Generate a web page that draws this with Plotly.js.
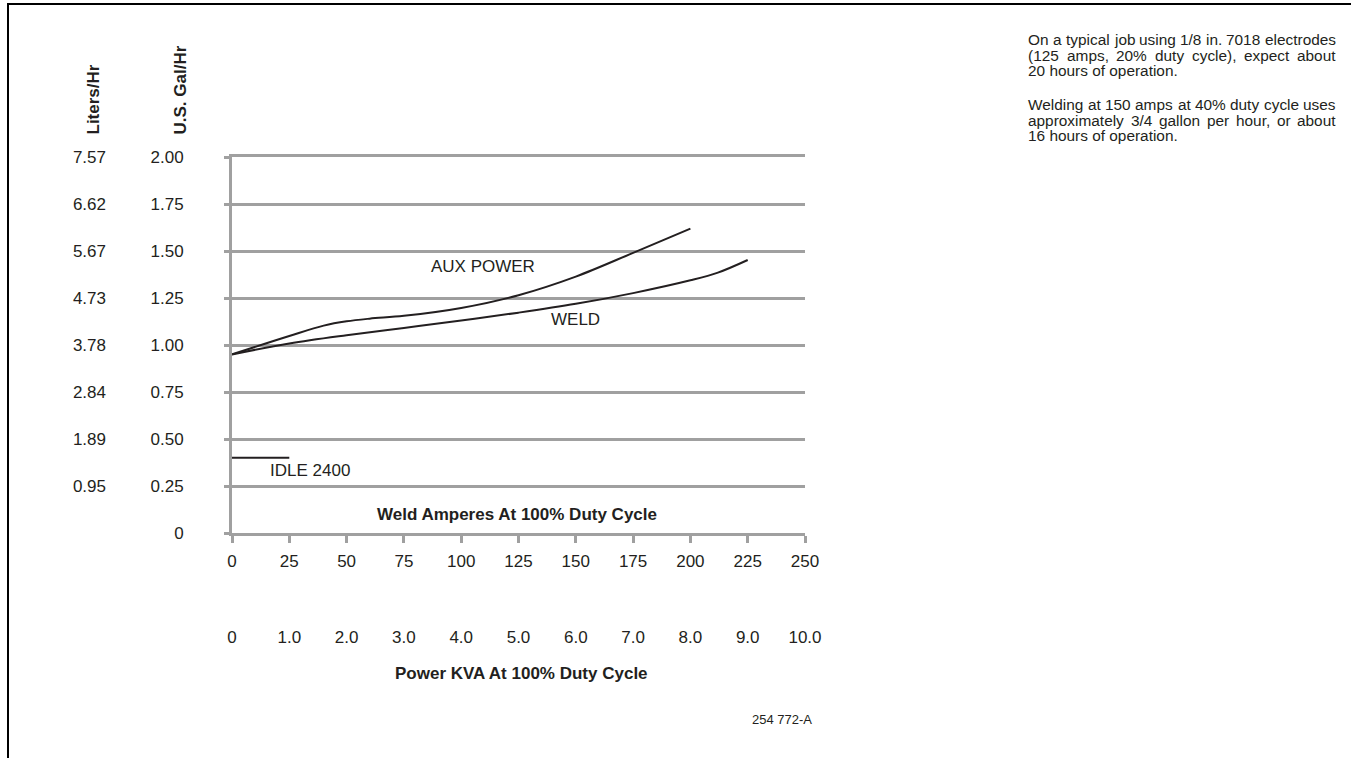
<!DOCTYPE html>
<html>
<head>
<meta charset="utf-8">
<script src="https://cdn.plot.ly/plotly-3.0.1.min.js"></script>
<style>
  html, body { margin: 0; padding: 0; background: #ffffff; }
  #chart { width: 1351px; height: 758px; }
</style>
</head>
<body>
<div id="chart"></div>
<script>
// ---------------- data ----------------
const auxAmps = [0, 25, 40, 50, 60, 75, 100, 125, 150, 175, 200];
const auxGal  = [0.95, 1.048, 1.103, 1.126, 1.14, 1.155, 1.197, 1.265, 1.364, 1.49, 1.619];

const weldAmps = [0, 25, 50, 75, 100, 125, 150, 175, 200, 212, 225];
const weldGal  = [0.95, 1.008, 1.052, 1.091, 1.13, 1.172, 1.219, 1.276, 1.344, 1.385, 1.452];

const idleAmps = [0, 25];
const idleGal  = [0.40, 0.40];

const ampTickVals = [0, 25, 50, 75, 100, 125, 150, 175, 200, 225, 250];
const ampTickText = ['0', '25', '50', '75', '100', '125', '150', '175', '200', '225', '250'];

const kvaTickVals = [0, 1, 2, 3, 4, 5, 6, 7, 8, 9, 10];
const kvaTickText = ['0', '1.0', '2.0', '3.0', '4.0', '5.0', '6.0', '7.0', '8.0', '9.0', '10.0'];

const galTickVals = [0, 0.25, 0.5, 0.75, 1.0, 1.25, 1.5, 1.75, 2.0];
const galTickText = ['0', '0.25', '0.50', '0.75', '1.00', '1.25', '1.50', '1.75', '2.00'];

const literTickVals = [0.25, 0.5, 0.75, 1.0, 1.25, 1.5, 1.75, 2.0];
const literTickText = ['0.95', '1.89', '2.84', '3.78', '4.73', '5.67', '6.62', '7.57'];

const para1 = [
  ['On a typical job using 1/8 in. 7018 electrodes', true],
  ['(125 amps, 20% duty cycle), expect about', true],
  ['20 hours of operation.', false]
];
const para2 = [
  ['Welding at 150 amps at 40% duty cycle uses', true],
  ['approximately 3/4 gallon per hour, or about', true],
  ['16 hours of operation.', false]
];

// ---------------- layout helpers ----------------
const FONT = 'Liberation Sans, Arial, sans-serif';
const INK = '#231f20';
const GRID = '#a0a0a0';
const L = 232, T = 157, W = 573, H = 376;
const FIGW = 1351, FIGH = 758;
const pxX = x => (x - L) / W;
const pxY = y => (T + H - y) / H;

const annotations = [];

// curve labels (data coordinates)
function label(text, x, y, size, bold) {
  annotations.push({
    text: bold ? '<b>' + text + '</b>' : text,
    x: x, y: y, xref: 'x', yref: 'y',
    showarrow: false, xanchor: 'center', yanchor: 'middle',
    font: { family: FONT, size: size, color: INK }
  });
}
label('AUX POWER', 109.6, 1.418, 17, false);
label('WELD', 149.9, 1.135, 17, false);
label('IDLE 2400', 33.9, 0.333, 17, false);
label('Weld Amperes At 100% Duty Cycle', 124.5, 0.097, 17, true);

// paper-pixel annotations
function ann(text, px, py, opts) {
  annotations.push(Object.assign({
    text: text, x: pxX(px), y: pxY(py), xref: 'paper', yref: 'paper',
    showarrow: false, xanchor: 'center', yanchor: 'middle', borderpad: 0,
    font: { family: FONT, size: 17, color: INK }
  }, opts || {}));
}
ann('<b>Liters/Hr</b>', 93.5, 136, { textangle: -90, yanchor: 'bottom' });
ann('<b>U.S. Gal/Hr</b>', 180, 136, { textangle: -90, yanchor: 'bottom' });
ann('<b>Power KVA At 100% Duty Cycle</b>', 521, 673);
ann('254 772-A', 782, 719, { font: { family: FONT, size: 13, color: INK } });

// justified paragraph text on the right
const cnv = document.createElement('canvas');
const ctx = cnv.getContext('2d');
const PFS = 15.4;
ctx.font = PFS + 'px "Liberation Sans"';
const LEFT = 1027, RIGHT = 1335;
const wordW = w => ctx.measureText(w).width;
function addPara(lines, y0) {
  lines.forEach((ln, i) => {
    const cy = y0 + i * 16;
    const txt = ln[0], just = ln[1];
    const pf = { family: FONT, size: PFS, color: INK };
    if (!just) {
      ann(txt, LEFT, cy, { xanchor: 'left', font: pf });
      return;
    }
    const words = txt.split(' ');
    const ws = words.map(wordW);
    const sum = ws.reduce((a, b) => a + b, 0);
    const gap = (RIGHT - LEFT - sum) / (words.length - 1);
    let x = LEFT;
    words.forEach((w, k) => {
      ann(w, x, cy, { xanchor: 'left', font: pf });
      x += ws[k] + gap;
    });
  });
}
addPara(para1, 39);
addPara(para2, 104);

// frame lines
const shapes = [
  { type: 'line', xref: 'paper', yref: 'paper', x0: pxX(8), x1: pxX(8), y0: pxY(4), y1: pxY(FIGH), line: { color: '#000', width: 2 } },
  { type: 'line', xref: 'paper', yref: 'paper', x0: pxX(7), x1: pxX(FIGW), y0: pxY(4), y1: pxY(4), line: { color: '#000', width: 2 } }
];

// ---------------- traces ----------------
const lineStyle = { color: INK, width: 2, shape: 'spline', smoothing: 1 };
const traces = [
  { x: auxAmps, y: auxGal, mode: 'lines', line: lineStyle, name: 'AUX POWER', hoverinfo: 'x+y' },
  { x: weldAmps, y: weldGal, mode: 'lines', line: lineStyle, name: 'WELD', hoverinfo: 'x+y' },
  { x: idleAmps, y: idleGal, mode: 'lines', line: { color: INK, width: 2 }, name: 'IDLE 2400', hoverinfo: 'x+y' },
  // invisible helpers so the secondary scales are drawn
  { x: kvaTickVals, y: kvaTickVals.map(() => 0), xaxis: 'x2', yaxis: 'y', mode: 'markers', marker: { opacity: 0 }, hoverinfo: 'skip' },
  { x: literTickVals.map(() => 0), y: literTickVals, xaxis: 'x', yaxis: 'y2', mode: 'markers', marker: { opacity: 0 }, hoverinfo: 'skip' }
];

const tickFont = { family: FONT, size: 17, color: INK };

const layout = {
  width: FIGW, height: FIGH, autosize: false,
  margin: { l: L, r: FIGW - L - W, t: T, b: FIGH - T - H, pad: 0 },
  paper_bgcolor: '#ffffff', plot_bgcolor: '#ffffff',
  showlegend: false,
  font: { family: FONT, color: INK },
  xaxis: {
    range: [0, 250], tickmode: 'array', tickvals: ampTickVals, ticktext: ampTickText,
    ticks: 'outside', ticklen: 7, tickwidth: 3, tickcolor: GRID,
    showline: true, linecolor: GRID, linewidth: 3, mirror: true,
    showgrid: false, zeroline: false, tickfont: tickFont, ticklabelstandoff: 4,
    fixedrange: true
  },
  xaxis2: {
    overlaying: 'x', anchor: 'y', side: 'bottom',
    range: [0, 10], tickmode: 'array', tickvals: kvaTickVals, ticktext: kvaTickText,
    ticks: '', showline: false, showgrid: false, zeroline: false,
    tickfont: tickFont, ticklabelstandoff: 92, fixedrange: true
  },
  yaxis: {
    range: [0, 2], tickmode: 'array', tickvals: galTickVals, ticktext: galTickText,
    ticks: 'outside', ticklen: 5, tickwidth: 3, tickcolor: GRID,
    showline: true, linecolor: GRID, linewidth: 3,
    showgrid: true, gridcolor: GRID, gridwidth: 3, zeroline: false,
    tickfont: tickFont, ticklabelstandoff: 37, fixedrange: true
  },
  yaxis2: {
    overlaying: 'y', anchor: 'x', side: 'left',
    range: [0, 2], tickmode: 'array', tickvals: literTickVals, ticktext: literTickText,
    ticks: '', showline: false, showgrid: false, zeroline: false,
    tickfont: tickFont, ticklabelstandoff: 125, fixedrange: true
  },
  annotations: annotations,
  shapes: shapes
};

Plotly.newPlot('chart', traces, layout, { displayModeBar: false, staticPlot: true });
</script>
</body>
</html>
